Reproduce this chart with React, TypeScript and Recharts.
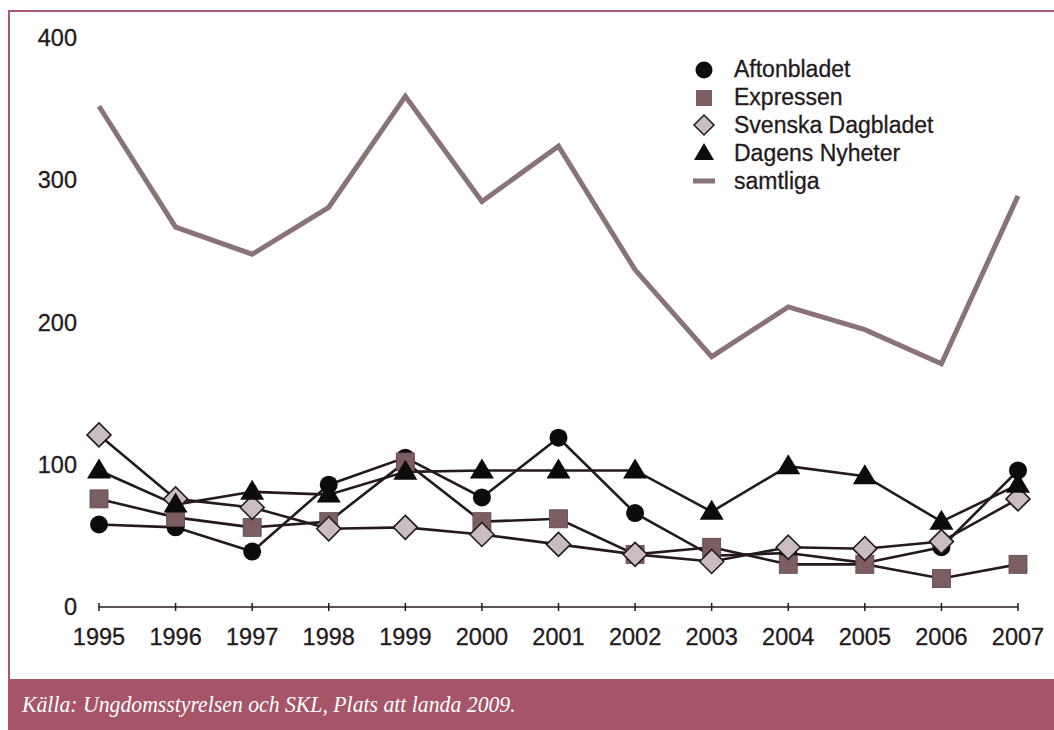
import { LineChart, Line, XAxis, YAxis } from "recharts";

const years = ["1995", "1996", "1997", "1998", "1999", "2000", "2001", "2002", "2003", "2004", "2005", "2006", "2007"];
const aftonbladet = [58, 56, 39, 86, 105, 77, 119, 66, 36, 38, 31, 42, 96];
const expressen = [76, 63, 56, 60, 102, 60, 62, 37, 42, 30, 30, 20, 30];
const svenskaDagbladet = [121, 76, 70, 55, 56, 51, 44, 37, 32, 42, 41, 46, 76];
const dagensNyheter = [96, 72, 81, 79, 95, 96, 96, 96, 67, 99, 92, 60, 86];
const samtliga = [352, 267, 248, 281, 359, 285, 324, 237, 176, 211, 195, 171, 289];
const yTicks = [0, 100, 200, 300, 400];

const data = years.map((y, i) => ({
  year: y,
  af: aftonbladet[i],
  ex: expressen[i],
  svd: svenskaDagbladet[i],
  dn: dagensNyheter[i],
  all: samtliga[i],
}));

const INK = "#241a1c";
const FONT = "'Liberation Sans', Arial, sans-serif";

const Circle = (p: any) => <circle key={p.key} cx={p.cx} cy={p.cy} r={9} fill="#0d0b0b" />;
const Square = (p: any) => (
  <rect key={p.key} x={p.cx - 9} y={p.cy - 9} width={18} height={18} fill="#7b5e62" stroke="#5e4549" strokeWidth={0.8} />
);
const Diamond = (p: any) => (
  <path key={p.key} d={`M${p.cx},${p.cy - 12}L${p.cx + 12},${p.cy}L${p.cx},${p.cy + 12}L${p.cx - 12},${p.cy}Z`} fill="#c9bdbf" stroke={INK} strokeWidth={1.6} />
);
const Triangle = (p: any) => (
  <path key={p.key} d={`M${p.cx},${p.cy - 12}L${p.cx + 12},${p.cy + 8}L${p.cx - 12},${p.cy + 8}Z`} fill="#0d0b0b" />
);

const XTick = (p: any) => (
  <g>
    <line x1={p.x} x2={p.x} y1={p.y - 4} y2={p.y + 4} stroke={INK} strokeWidth={1.5} />
    <text x={p.x} y={p.y + 30} textAnchor="middle" dominantBaseline="central" fontSize={23.5} fontFamily={FONT} fill={INK} stroke={INK} strokeWidth={0.3}>
      {p.payload.value}
    </text>
  </g>
);

const YTick = (p: any) => (
  <text x={p.x - 22} y={p.y} textAnchor="end" dominantBaseline="central" fontSize={23.5} fontFamily={FONT} fill={INK} stroke={INK} strokeWidth={0.3}>
    {p.payload.value}
  </text>
);

const legendItems = [
  { name: "Aftonbladet", icon: (cx: number, cy: number) => <circle cx={cx} cy={cy} r={8.5} fill="#0d0b0b" /> },
  { name: "Expressen", icon: (cx: number, cy: number) => <rect x={cx - 8} y={cy - 8} width={16} height={16} fill="#7b5e62" /> },
  { name: "Svenska Dagbladet", icon: (cx: number, cy: number) => <path d={`M${cx},${cy - 10}L${cx + 10},${cy}L${cx},${cy + 10}L${cx - 10},${cy}Z`} fill="#c9bdbf" stroke={INK} strokeWidth={1.5} /> },
  { name: "Dagens Nyheter", icon: (cx: number, cy: number) => <path d={`M${cx},${cy - 10}L${cx + 10},${cy + 7}L${cx - 10},${cy + 7}Z`} fill="#0d0b0b" /> },
  { name: "samtliga", icon: (cx: number, cy: number) => <line x1={cx - 11} x2={cx + 11} y1={cy} y2={cy} stroke="#8a7377" strokeWidth={5} /> },
];

export default function App() {
  return (
    <div style={{ position: "absolute", left: 0, top: 0, width: 1054, height: 730, background: "#fff", overflow: "hidden" }}>
      <div style={{ position: "absolute", left: 8, top: 10, width: 1060, height: 720, border: "2px solid #a8576b", boxSizing: "border-box" }} />
      <div style={{ position: "absolute", left: 0, top: 0 }}>
        <LineChart width={1054} height={680} data={data} margin={{ top: 38, right: 36, left: 39, bottom: 33 }}>
          <XAxis
            dataKey="year"
            height={40}
            tick={<XTick />}
            tickLine={false}
            tickSize={0}
            tickMargin={0}
            interval={0}
            axisLine={{ stroke: INK, strokeWidth: 1.6 }}
          />
          <YAxis
            width={60}
            domain={[0, 400]}
            ticks={yTicks}
            tick={<YTick />}
            tickLine={false}
            tickSize={0}
            tickMargin={0}
            axisLine={false}
          />
          <Line dataKey="all" name="samtliga" stroke="#8a7377" strokeWidth={5} dot={false} isAnimationActive={false} />
          <Line dataKey="af" name="Aftonbladet" stroke={INK} strokeWidth={2.6} dot={Circle} isAnimationActive={false} />
          <Line dataKey="ex" name="Expressen" stroke={INK} strokeWidth={2.6} dot={Square} isAnimationActive={false} />
          <Line dataKey="svd" name="Svenska Dagbladet" stroke={INK} strokeWidth={2.6} dot={Diamond} isAnimationActive={false} />
          <Line dataKey="dn" name="Dagens Nyheter" stroke={INK} strokeWidth={2.6} dot={Triangle} isAnimationActive={false} />
        </LineChart>
      </div>
      <div style={{ position: "absolute", left: 692, top: 56, fontFamily: FONT, fontSize: 23, color: INK, WebkitTextStroke: "0.3px " + INK }}>
        {legendItems.map((it) => (
          <div key={it.name} style={{ display: "flex", alignItems: "center", height: 27.8 }}>
            <svg width={32} height={24} style={{ marginRight: 10 }}>
              {it.icon(12, 12)}
            </svg>
            <span>{it.name}</span>
          </div>
        ))}
      </div>
      <div
        style={{
          position: "absolute",
          left: 8,
          top: 679,
          width: 1046,
          height: 51,
          background: "#a65467",
        }}
      >
        <div
          style={{
            position: "absolute",
            left: 14,
            top: 0,
            color: "#fff",
            fontFamily: "'Liberation Serif', 'DejaVu Serif', serif",
            fontStyle: "italic",
            fontSize: 23,
            lineHeight: "51px",
            whiteSpace: "nowrap",
            transform: "scaleX(0.945)",
            transformOrigin: "left center",
          }}
        >
          Källa: Ungdomsstyrelsen och SKL, Plats att landa 2009.
        </div>
      </div>
    </div>
  );
}
